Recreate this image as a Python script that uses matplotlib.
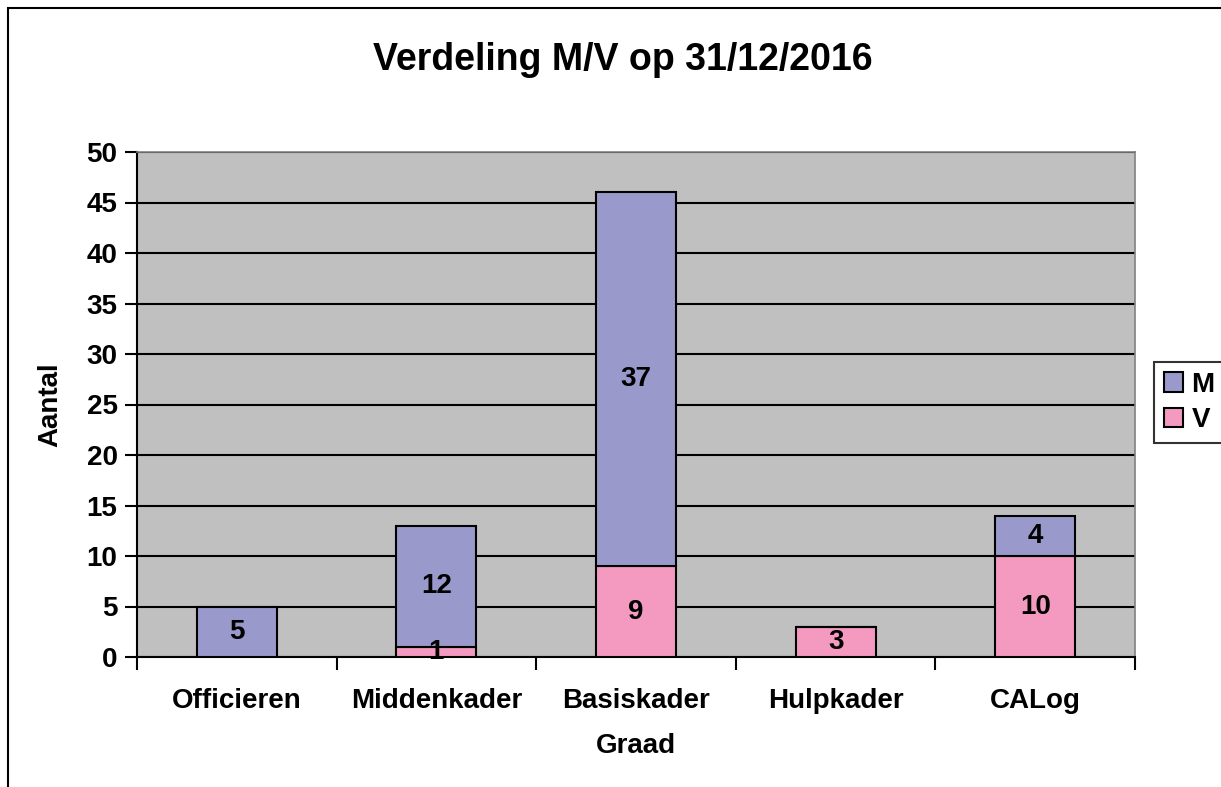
import matplotlib
matplotlib.use("Agg")
import matplotlib.pyplot as plt
from matplotlib.patches import Rectangle

categories = ["Officieren", "Middenkader", "Basiskader", "Hulpkader", "CALog"]
v_values = [0, 1, 9, 3, 10]
m_values = [5, 12, 37, 0, 4]
yticks = list(range(0, 51, 5))

W, H = 1221, 787
fig = plt.figure(figsize=(W / 100, H / 100), dpi=100)
plt.rcParams['font.family'] = ['Liberation Sans', 'DejaVu Sans']

# outer border
fig.patches.append(Rectangle((8 / W, -0.1), 1.2, 1 - 8 / H + 0.1, transform=fig.transFigure,
                             fill=False, edgecolor='black', linewidth=1.5))

ax = fig.add_axes([137 / W, 1 - 657 / H, (1135 - 137) / W, (657 - 152) / H])
ax.set_facecolor('#C0C0C0')
ax.set_xlim(-0.5, len(categories) - 0.5)
ax.set_ylim(0, 50)
ax.set_yticks(yticks)
ax.yaxis.grid(True, color='black', linewidth=1.5)
ax.set_axisbelow(True)

x = list(range(len(categories)))
cv = '#F49AC1'
cm = '#9999CC'
ax.bar(x, v_values, width=0.4, color=cv, edgecolor='black', linewidth=1.5, label='V', zorder=3)
ax.bar(x, m_values, width=0.4, bottom=v_values, color=cm, edgecolor='black', linewidth=1.5,
       label='M', zorder=3)

FS = 20
for i in x:
    if v_values[i] > 0:
        ax.text(i, v_values[i] / 2, str(v_values[i]), ha='center', va='center',
                fontsize=FS, fontweight='bold', zorder=5)
    if m_values[i] > 0:
        ax.text(i, v_values[i] + m_values[i] / 2, str(m_values[i]), ha='center', va='center',
                fontsize=FS, fontweight='bold', zorder=5)

# x ticks at category boundaries, labels at centers
ax.set_xticks([i - 0.5 for i in range(len(categories) + 1)])
ax.set_xticklabels([])
ax.set_xticks(x, minor=True)
ax.set_xticklabels(categories, minor=True, fontsize=FS, fontweight='bold')
ax.tick_params(axis='x', which='minor', length=0, pad=22)
ax.tick_params(axis='x', which='major', length=9, width=1.5, direction='out')
ax.tick_params(axis='y', length=9, width=1.5, direction='out', labelsize=FS, pad=5)
for lab in ax.get_yticklabels():
    lab.set_fontweight('bold')

for side in ['top', 'right']:
    ax.spines[side].set_color('#808080')
    ax.spines[side].set_linewidth(1.2)
for side in ['left', 'bottom']:
    ax.spines[side].set_color('black')
    ax.spines[side].set_linewidth(1.5)

ax.set_ylabel('Aantal', fontsize=FS, fontweight='bold', labelpad=17)
ax.set_xlabel('Graad', fontsize=FS, fontweight='bold', labelpad=14)
fig.text(623 / W, 1 - 60 / H, 'Verdeling M/V op 31/12/2016',
         ha='center', va='center', fontsize=27, fontweight='bold')

handles, labels = ax.get_legend_handles_labels()
leg = fig.legend(handles[::-1], labels[::-1], loc='upper left',
                 bbox_to_anchor=(1154 / W, 1 - 362 / H),
                 prop={'weight': 'bold', 'size': FS}, frameon=True, fancybox=False,
                 handlelength=0.7, handleheight=0.7, handletextpad=0.3,
                 borderpad=0.35, labelspacing=0.35, borderaxespad=0)
leg.get_frame().set_edgecolor('black')
leg.get_frame().set_linewidth(1.5)

fig.savefig('out.png', dpi=100)
